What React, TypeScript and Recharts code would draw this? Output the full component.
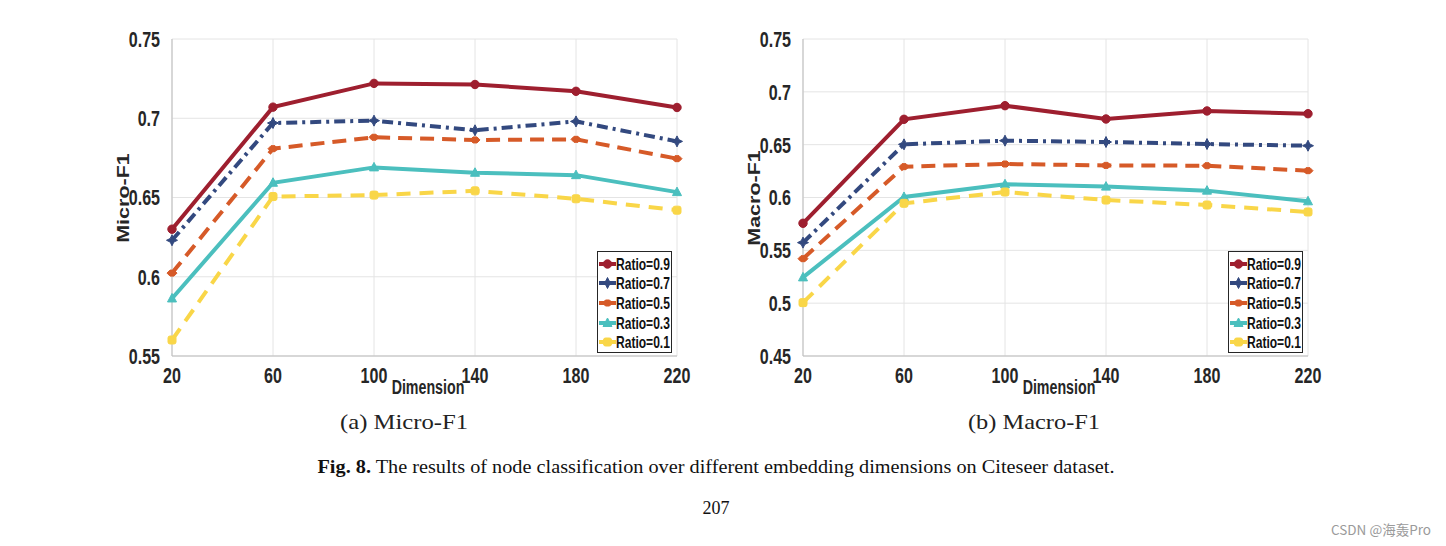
import React from "react";
import { LineChart, Line, XAxis, YAxis, CartesianGrid, Legend } from "recharts";

const dimensions = [20, 60, 100, 140, 180, 220];
const seriesNames = ["Ratio=0.9", "Ratio=0.7", "Ratio=0.5", "Ratio=0.3", "Ratio=0.1"];

// Micro-F1
const micro09 = [0.630, 0.707, 0.722, 0.7213, 0.717, 0.7068];
const micro07 = [0.623, 0.697, 0.6985, 0.6924, 0.698, 0.6854];
const micro05 = [0.6023, 0.6808, 0.688, 0.6863, 0.6867, 0.6745];
const micro03 = [0.5863, 0.6593, 0.669, 0.6656, 0.6641, 0.6534];
const micro01 = [0.5601, 0.6506, 0.6515, 0.6542, 0.6492, 0.642];

// Macro-F1
const macro09 = [0.5756, 0.674, 0.6869, 0.6743, 0.6819, 0.6793];
const macro07 = [0.5573, 0.6503, 0.6538, 0.6525, 0.6506, 0.649];
const macro05 = [0.5421, 0.6292, 0.6317, 0.6304, 0.6301, 0.6254];
const macro03 = [0.5244, 0.6005, 0.6125, 0.6103, 0.6065, 0.5964];
const macro01 = [0.5005, 0.5945, 0.6052, 0.5976, 0.5929, 0.5863];

const microTicks = [0.55, 0.6, 0.65, 0.7, 0.75];
const macroTicks = [0.45, 0.5, 0.55, 0.6, 0.65, 0.7, 0.75];

const keys = ["r09", "r07", "r05", "r03", "r01"];
const colors = ["#9E1F2F", "#33497F", "#D65A28", "#4BBFBE", "#F9D648"];
const dashes = [undefined, "11 5 3 5", "14 8", undefined, "14 9"];
const markers = ["circle", "star", "hex", "triangle", "square"];

function buildData(cols: number[][]) {
  return dimensions.map((d, i) => {
    const row: Record<string, number> = { dim: d };
    keys.forEach((k, j) => (row[k] = cols[j][i]));
    return row;
  });
}

const microData = buildData([micro09, micro07, micro05, micro03, micro01]);
const macroData = buildData([macro09, macro07, macro05, macro03, macro01]);

const sansFont = "'Liberation Sans', Arial, Helvetica, sans-serif";
const SQUEEZE = 0.73;

function Marker({ kind, cx, cy, color }: { kind: string; cx: number; cy: number; color: string }) {
  if (kind === "circle") return <circle cx={cx} cy={cy} r={4.2} fill={color} stroke={color} />;
  if (kind === "star") {
    const s = 5.5, w = 1.8;
    const p = `${cx},${cy - s} ${cx + w},${cy - w} ${cx + s},${cy} ${cx + w},${cy + w} ${cx},${cy + s} ${cx - w},${cy + w} ${cx - s},${cy} ${cx - w},${cy - w}`;
    return <polygon points={p} fill={color} stroke={color} strokeWidth={1} />;
  }
  if (kind === "hex") {
    const p = `${cx - 5},${cy} ${cx - 2},${cy - 3} ${cx + 2},${cy - 3} ${cx + 5},${cy} ${cx + 2},${cy + 3} ${cx - 2},${cy + 3}`;
    return <polygon points={p} fill={color} stroke={color} strokeWidth={1} />;
  }
  if (kind === "triangle") {
    const p = `${cx},${cy - 5} ${cx + 4.5},${cy + 3.5} ${cx - 4.5},${cy + 3.5}`;
    return <polygon points={p} fill={color} stroke={color} strokeWidth={1} />;
  }
  return <rect x={cx - 4} y={cy - 4} width={8} height={8} rx={2} fill={color} stroke={color} />;
}

function makeDot(idx: number) {
  return (props: any) => {
    const { cx, cy, index } = props;
    if (cx == null || cy == null) return <g key={`d${idx}-${index}`} />;
    return (
      <g key={`d${idx}-${index}`}>
        <Marker kind={markers[idx]} cx={cx} cy={cy} color={colors[idx]} />
      </g>
    );
  };
}

function XTick(props: any) {
  const { x, y, payload } = props;
  return (
    <g transform={`translate(${x},${y}) scale(${SQUEEZE},1)`}>
      <text x={0} y={0} dy="0.72em" textAnchor="middle"
        style={{ fontFamily: sansFont, fontWeight: 700, fontSize: 22, fill: "#262626" }}>
        {payload.value}
      </text>
    </g>
  );
}

function YTick(props: any) {
  const { x, y, payload } = props;
  const label = String(+Number(payload.value).toFixed(2));
  return (
    <g transform={`translate(${x},${y}) scale(${SQUEEZE},1)`}>
      <text x={0} y={0} dy="0.36em" textAnchor="end"
        style={{ fontFamily: sansFont, fontWeight: 700, fontSize: 22, fill: "#262626" }}>
        {label}
      </text>
    </g>
  );
}

function LegendBox() {
  return (
    <div
      style={{
        width: 73,
        height: 98,
        border: "1px solid #262626",
        background: "#fff",
        boxSizing: "content-box",
        paddingTop: 2,
      }}
    >
      {seriesNames.map((n, i) => (
        <div key={n} style={{ display: "flex", alignItems: "center", height: 19.6 }}>
          <svg width={17} height={14} style={{ marginLeft: 1, flex: "none" }}>
            <line x1={0} y1={7} x2={17} y2={7} stroke={colors[i]} strokeWidth={4} />
            <Marker kind={markers[i]} cx={8.5} cy={7} color={colors[i]} />
          </svg>
          <span
            style={{
              display: "inline-block",
              fontFamily: sansFont,
              fontWeight: 700,
              fontSize: 16.5,
              color: "#111",
              lineHeight: "16px",
              whiteSpace: "nowrap",
              transform: `scaleX(${SQUEEZE})`,
              transformOrigin: "left center",
            }}
          >
            {n}
          </span>
        </div>
      ))}
    </div>
  );
}

type PanelProps = {
  data: Record<string, number>[];
  ticks: number[];
  domain: [number, number];
  yLabel: string;
  width: number;
  marginLeft: number;
  marginRight: number;
  legendLeft: number;
};

function Panel({ data, ticks, domain, yLabel, width, marginLeft, marginRight, legendLeft }: PanelProps) {
  const plotLeft = marginLeft + 60;
  return (
    <LineChart
      width={width}
      height={400}
      data={data}
      margin={{ top: 39, right: marginRight, bottom: 4, left: marginLeft }}
    >
      <CartesianGrid stroke="#e4e4e4" strokeWidth={1} />
      <XAxis
        dataKey="dim"
        type="number"
        domain={[20, 220]}
        ticks={dimensions}
        height={40}
        axisLine={{ stroke: "#bdbdbd" }}
        tickLine={false}
        tick={<XTick />}
        tickMargin={5}
        interval={0}
      />
      <XAxis xAxisId="top" orientation="top" dataKey="dim" type="number" domain={[20, 220]} height={0} tick={false} tickLine={false} axisLine={{ stroke: "#bdbdbd" }} />
      <YAxis
        type="number"
        domain={domain}
        ticks={ticks}
        width={60}
        axisLine={{ stroke: "#bdbdbd" }}
        tickLine={false}
        tick={<YTick />}
        tickMargin={6}
        interval={0}
      />
      <YAxis yAxisId="right" orientation="right" type="number" domain={domain} width={0} tick={false} tickLine={false} axisLine={{ stroke: "#bdbdbd" }} />
      {keys.map((k, i) => (
        <Line
          key={k}
          dataKey={k}
          name={seriesNames[i]}
          type="linear"
          stroke={colors[i]}
          strokeWidth={4}
          strokeDasharray={dashes[i]}
          dot={makeDot(i)}
          activeDot={false}
          isAnimationActive={false}
        />
      ))}
      <Legend
        layout="vertical"
        align="center"
        verticalAlign="middle"
        content={() => <LegendBox />}
        wrapperStyle={{ left: legendLeft, top: 251, width: 75, height: 100 }}
      />
      <g transform={`translate(${plotLeft - 48},198) scale(${SQUEEZE},1) rotate(-90)`}>
        <text
          x={0}
          y={0}
          textAnchor="middle"
          dominantBaseline="central"
          style={{ fontFamily: sansFont, fontWeight: 700, fontSize: 21.5, fill: "#262626" }}
        >
          {yLabel}
        </text>
      </g>
      <g transform={`translate(${plotLeft + 256},388) scale(${SQUEEZE},1)`}>
        <text x={0} y={0} textAnchor="middle" dominantBaseline="central"
          style={{ fontFamily: sansFont, fontWeight: 700, fontSize: 19.5, fill: "#262626" }}>
          Dimension
        </text>
      </g>
    </LineChart>
  );
}

const captionA = "(a) Micro-F1";
const captionB = "(b) Macro-F1";
const figLabel = "Fig. 8.";
const figText = " The results of node classification over different embedding dimensions on Citeseer dataset.";
const pageNo = "207";
const watermark = "CSDN @海轰Pro";

export default function App() {
  return (
    <div style={{ position: "absolute", left: 0, top: 0, width: 1446, height: 546, background: "#fff", overflow: "hidden" }}>
      <div style={{ position: "absolute", left: 0, top: 0 }}>
        <Panel
          data={microData}
          ticks={microTicks}
          domain={[0.55, 0.75]}
          yLabel="Micro-F1"
          width={720}
          marginLeft={112}
          marginRight={43}
          legendLeft={597}
        />
      </div>
      <div style={{ position: "absolute", left: 730, top: 0 }}>
        <Panel
          data={macroData}
          ticks={macroTicks}
          domain={[0.45, 0.75]}
          yLabel="Macro-F1"
          width={620}
          marginLeft={13}
          marginRight={42}
          legendLeft={498}
        />
      </div>
      <svg style={{ position: "absolute", left: 0, top: 0 }} width={1446} height={546}>
        <text x={404} y={422} textAnchor="middle" dominantBaseline="central" textLength={128} lengthAdjust="spacingAndGlyphs"
          style={{ fontFamily: "'Liberation Serif', 'DejaVu Serif', serif", fontSize: 21, fill: "#222" }}>
          {captionA}
        </text>
        <text x={1034} y={422} textAnchor="middle" dominantBaseline="central" textLength={132} lengthAdjust="spacingAndGlyphs"
          style={{ fontFamily: "'Liberation Serif', 'DejaVu Serif', serif", fontSize: 21, fill: "#222" }}>
          {captionB}
        </text>
        <text x={716} y={467} textAnchor="middle" dominantBaseline="central" textLength={797} lengthAdjust="spacingAndGlyphs"
          style={{ fontFamily: "'Liberation Serif', serif", fontSize: 18, fill: "#111" }}>
          <tspan fontWeight={700}>{figLabel}</tspan>
          <tspan>{figText}</tspan>
        </text>
        <text x={716} y={508} textAnchor="middle" dominantBaseline="central"
          style={{ fontFamily: "'Liberation Serif', serif", fontSize: 18, fill: "#111" }}>
          {pageNo}
        </text>
        <text x={1431} y={529} textAnchor="end" dominantBaseline="central"
          style={{ fontFamily: "'Noto Sans CJK SC', 'Noto Sans', sans-serif", fontSize: 13.5, fill: "#9a9a9a" }}>
          {watermark}
        </text>
      </svg>
    </div>
  );
}
